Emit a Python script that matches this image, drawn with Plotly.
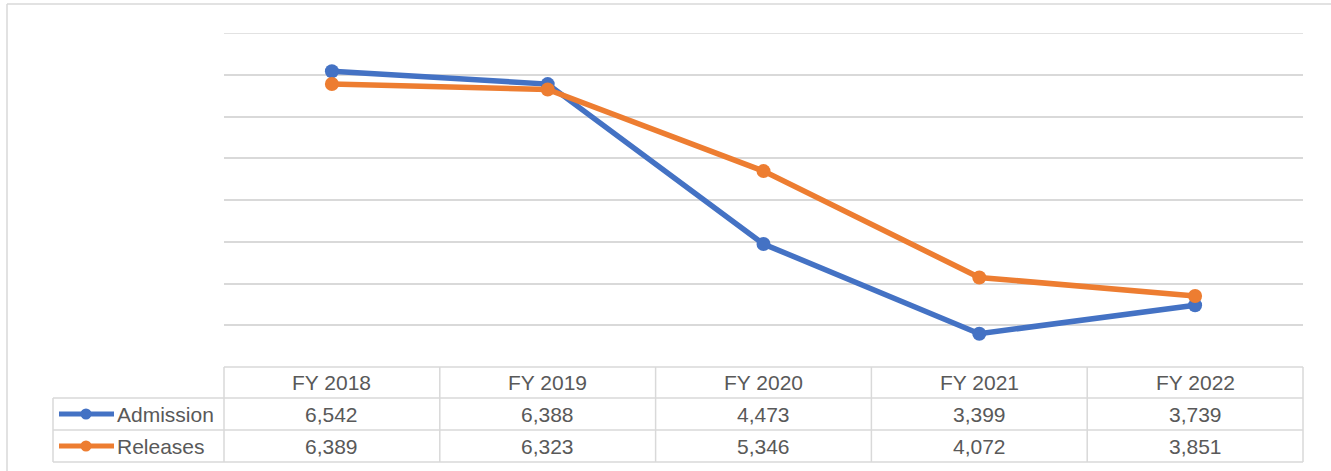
import plotly.graph_objects as go

categories = ["FY 2018", "FY 2019", "FY 2020", "FY 2021", "FY 2022"]
admission = [6542, 6388, 4473, 3399, 3739]
releases = [6389, 6323, 5346, 4072, 3851]
series_names = ["Admission", "Releases"]
colors = ["#4472C4", "#ED7D31"]

W, H = 1331, 471
L, R, T, B = 224, 1303, 33, 367  # plot area in pixels

def px(x):
    return (x - L) / (R - L)

def py(y):
    return (B - y) / (B - T)

fig = go.Figure()
for name, vals, c in zip(series_names, [admission, releases], colors):
    fig.add_trace(go.Scatter(
        x=categories, y=vals, mode="lines+markers", name=name,
        line=dict(color=c, width=5.5), marker=dict(color=c, size=14),
        showlegend=False, cliponaxis=False,
    ))

grid = "#D9D9D9"
shapes = []
shapes.append(dict(type="line", xref="paper", yref="y", x0=0, x1=1, y0=7000, y1=7000, line=dict(color=grid, width=1.5), layer="below"))
shapes.append(dict(type="line", xref="paper", yref="paper", x0=px(7), x1=px(1340), y0=py(4), y1=py(4), line=dict(color=grid, width=1.5)))
shapes.append(dict(type="line", xref="paper", yref="paper", x0=px(7), x1=px(7), y0=py(4), y1=py(480), line=dict(color=grid, width=1.5)))

row_y = [367, 398, 430, 462]
col_w = (R - L) / len(categories)
col_x = [L + i * col_w for i in range(len(categories) + 1)]
left_x = 53
shapes.append(dict(type="line", xref="paper", yref="paper", x0=px(L), x1=px(R), y0=py(row_y[0]), y1=py(row_y[0]), line=dict(color=grid, width=1.5)))
for yy in row_y[1:]:
    shapes.append(dict(type="line", xref="paper", yref="paper", x0=px(left_x), x1=px(R), y0=py(yy), y1=py(yy), line=dict(color=grid, width=1.5)))
for xx in col_x:
    shapes.append(dict(type="line", xref="paper", yref="paper", x0=px(xx), x1=px(xx), y0=py(row_y[0]), y1=py(row_y[-1]), line=dict(color=grid, width=1.5)))
shapes.append(dict(type="line", xref="paper", yref="paper", x0=px(left_x), x1=px(left_x), y0=py(row_y[1]), y1=py(row_y[-1]), line=dict(color=grid, width=1.5)))

annotations = []
font = dict(family="Liberation Sans, Arial, sans-serif", size=21, color="#595959")
for i, cat in enumerate(categories):
    cx = (col_x[i] + col_x[i + 1]) / 2
    annotations.append(dict(xref="paper", yref="paper", x=px(cx), y=py((row_y[0] + row_y[1]) / 2), text=cat, showarrow=False, font=font, xanchor="center", yanchor="middle"))
for r, (name, vals, c) in enumerate(zip(series_names, [admission, releases], colors)):
    cy = (row_y[r + 1] + row_y[r + 2]) / 2
    for i, v in enumerate(vals):
        cx = (col_x[i] + col_x[i + 1]) / 2
        annotations.append(dict(xref="paper", yref="paper", x=px(cx), y=py(cy), text=f"{v:,}", showarrow=False, font=font, xanchor="center", yanchor="middle"))
    annotations.append(dict(xref="paper", yref="paper", x=px(115), y=py(cy), text=name, showarrow=False, font=font, xanchor="left", yanchor="middle"))
    shapes.append(dict(type="line", xref="paper", yref="paper", x0=px(59), x1=px(114), y0=py(cy), y1=py(cy), line=dict(color=c, width=5)))
    shapes.append(dict(type="circle", xref="paper", yref="paper", x0=px(86 - 5.5), x1=px(86 + 5.5), y0=py(cy + 5.5), y1=py(cy - 5.5), fillcolor=c, line=dict(color=c, width=0)))

fig.update_layout(
    width=W, height=H,
    margin=dict(l=L, r=W - R, t=T, b=H - B),
    paper_bgcolor="white", plot_bgcolor="white",
    shapes=shapes, annotations=annotations,
    xaxis=dict(type="category", range=[-0.5, 4.5], showgrid=False, showticklabels=False, zeroline=False, showline=False, ticks=""),
    yaxis=dict(range=[3000, 7000], dtick=500, tick0=3000, showgrid=True, gridcolor=grid, gridwidth=1.5, showticklabels=False, zeroline=False, showline=False, ticks=""),
)

fig.write_html("out.html", config={"displayModeBar": False}, post_script="document.body.style.margin='0';")
